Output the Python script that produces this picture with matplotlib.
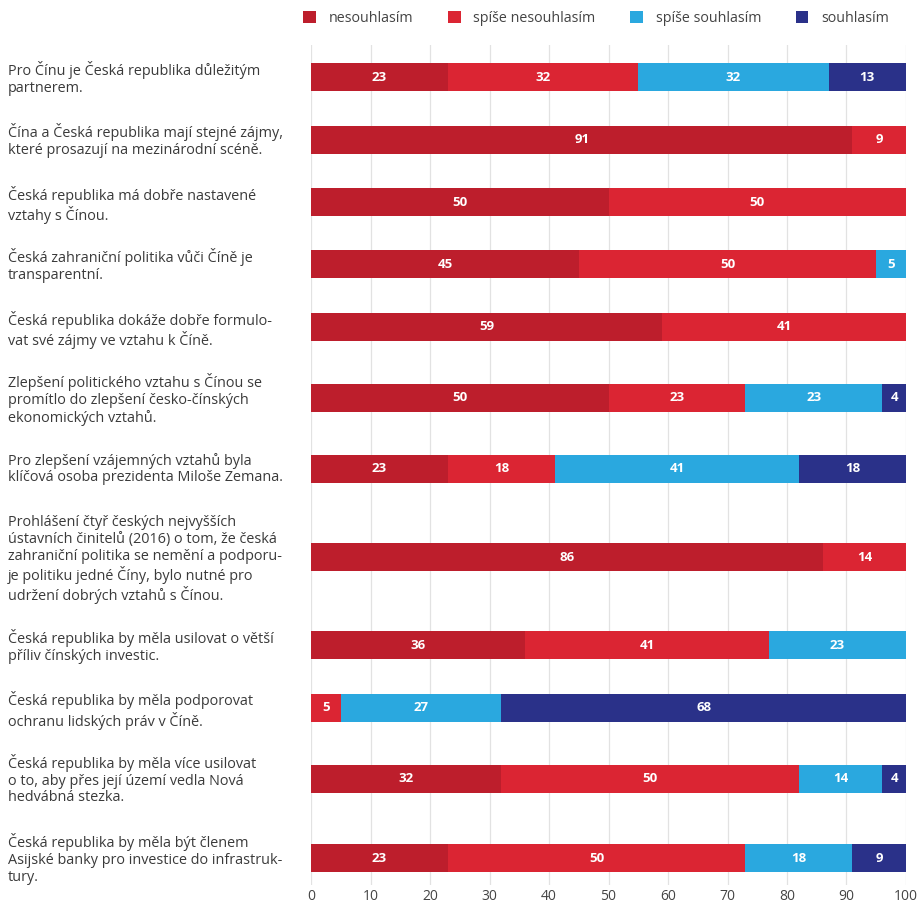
import matplotlib.pyplot as plt
import numpy as np
from matplotlib.transforms import blended_transform_factory

plt.rcParams['font.family'] = ['Open Sans', 'DejaVu Sans']

# ===== data =====
statements = [
    "Pro Čínu je Česká republika důležitým\npartnerem.",
    "Čína a Česká republika mají stejné zájmy,\nkteré prosazují na mezinárodní scéně.",
    "Česká republika má dobře nastavené\nvztahy s Čínou.",
    "Česká zahraniční politika vůči Číně je\ntransparentní.",
    "Česká republika dokáže dobře formulo-\nvat své zájmy ve vztahu k Číně.",
    "Zlepšení politického vztahu s Čínou se\npromítlo do zlepšení česko-čínských\nekonomických vztahů.",
    "Pro zlepšení vzájemných vztahů byla\nklíčová osoba prezidenta Miloše Zemana.",
    "Prohlášení čtyř českých nejvyšších\nústavních činitelů (2016) o tom, že česká\nzahraniční politika se nemění a podporu-\nje politiku jedné Číny, bylo nutné pro\nudržení dobrých vztahů s Čínou.",
    "Česká republika by měla usilovat o větší\npříliv čínských investic.",
    "Česká republika by měla podporovat\nochranu lidských práv v Číně.",
    "Česká republika by měla více usilovat\no to, aby přes její území vedla Nová\nhedvábná stezka.",
    "Česká republika by měla být členem\nAsijské banky pro investice do infrastruk-\ntury.",
]
series_names = ["nesouhlasím", "spíše nesouhlasím", "spíše souhlasím", "souhlasím"]
nesouhlasim = [23, 91, 50, 45, 59, 50, 23, 86, 36, 0, 32, 23]
spise_nesouhlasim = [32, 9, 50, 50, 41, 23, 18, 14, 41, 5, 50, 50]
spise_souhlasim = [32, 0, 0, 5, 0, 23, 41, 0, 23, 27, 14, 18]
souhlasim = [13, 0, 0, 0, 0, 4, 18, 0, 0, 68, 4, 9]

COLORS = ["#BD1E2C", "#DB2533", "#2AA8DF", "#2A3189"]

# ===== layout: rows spaced by number of label lines (pixel units) =====
LINE_H = 17.2
GAP = 28
FIRST_TOP = 62
tops = []
t = FIRST_TOP
for s in statements:
    tops.append(t)
    t += s.count("\n") * LINE_H + LINE_H + GAP
centers = [tp + (s.count("\n") + 1) * LINE_H / 2 - 2 for tp, s in zip(tops, statements)]

fig = plt.figure(figsize=(9.17, 9.05), dpi=100)
ax = fig.add_axes([311 / 917, 1 - 885 / 905, (906 - 311) / 917, (885 - 45) / 905])

values = np.array([nesouhlasim, spise_nesouhlasim, spise_souhlasim, souhlasim], dtype=float)
left = np.zeros(len(statements))
for i, name in enumerate(series_names):
    vals = values[i]
    ax.barh(centers, vals, left=left, height=28, color=COLORS[i], label=name, zorder=2)
    for y, l, v in zip(centers, left, vals):
        if v > 0:
            ax.text(l + v / 2, y, f"{int(v)}", ha='center', va='center', color='white',
                    fontsize=9.5, fontweight='bold', zorder=3)
    left += vals

ax.set_xlim(0, 100)
ax.set_ylim(885, 45)
ax.set_xticks(np.arange(0, 101, 10))
ax.tick_params(axis='x', length=0, pad=3, labelsize=10, labelcolor='#444444')
ax.set_yticks([])
ax.grid(axis='x', color='#E2E2E2', linewidth=0.9, zorder=0)
for sp in ax.spines.values():
    sp.set_visible(False)

# statement labels on the left
trans = blended_transform_factory(fig.transFigure, ax.transData)
for tp, s in zip(tops, statements):
    ax.text(8 / 917, tp - 1, s, transform=trans, ha='left', va='top', fontsize=10.4,
            color='#3A3A3A', linespacing=1.16, clip_on=False)

fig.legend(loc='center', bbox_to_anchor=(0.65, 1 - 18 / 905), ncol=4, frameon=False,
           fontsize=10.3, handlelength=0.9, handleheight=0.9, columnspacing=2.4,
           handletextpad=0.9, labelcolor='#444444')

plt.savefig("out.png", dpi=100)
